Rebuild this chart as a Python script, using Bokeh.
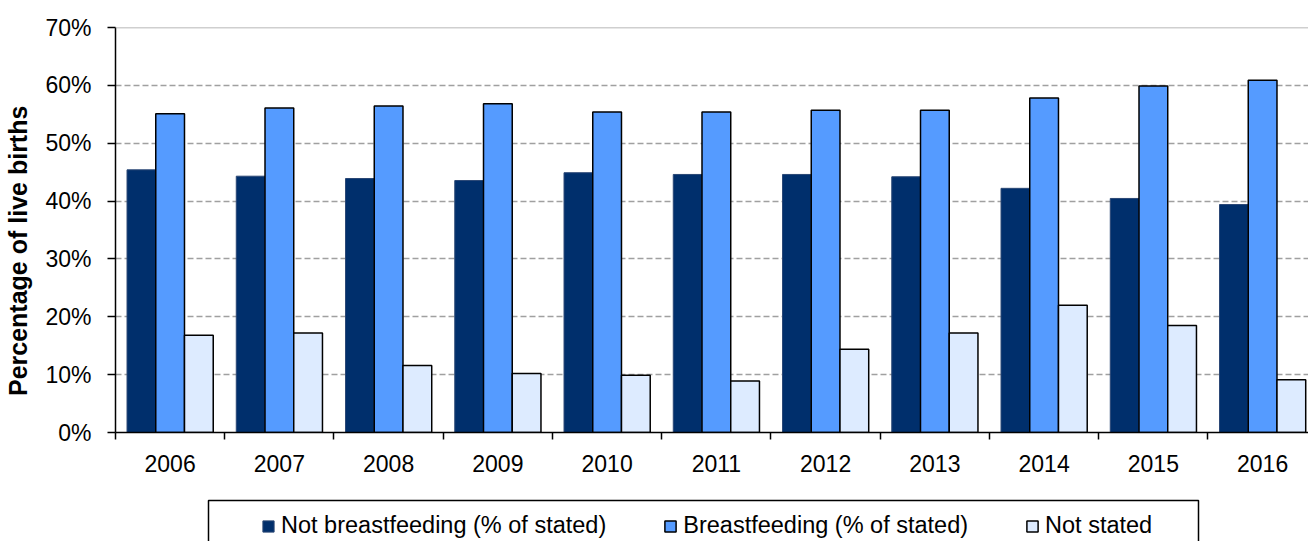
from bokeh.plotting import figure
from bokeh.models import (ColumnDataSource, FixedTicker, PrintfTickFormatter, Legend,
                          LegendItem, Span, Range1d, BoxAnnotation)
from bokeh.layouts import column
from bokeh.transform import dodge
from bokeh.embed import file_html
from bokeh.resources import INLINE

years = ["2006", "2007", "2008", "2009", "2010", "2011", "2012", "2013", "2014", "2015", "2016"]
not_breastfeeding = [45.4, 44.3, 43.9, 43.55, 44.9, 44.6, 44.6, 44.2, 42.2, 40.45, 39.4]
breastfeeding = [55.1, 56.1, 56.45, 56.8, 55.4, 55.4, 55.7, 55.7, 57.8, 59.9, 60.9]
not_stated = [16.8, 17.2, 11.6, 10.2, 9.9, 8.9, 14.4, 17.2, 22.0, 18.5, 9.1]
y_ticks = [0, 10, 20, 30, 40, 50, 60, 70]
series_names = ["Not breastfeeding (% of stated)", "Breastfeeding (% of stated)", "Not stated"]
series_colors = ["#002F6C", "#559BFF", "#DDEBFF"]
series_lines = ["#2a4775", "black", "black"]

centers = [i + 0.5 for i in range(len(years))]
bounds = [float(i) for i in range(len(years) + 1)]

src = ColumnDataSource(dict(x=centers, year=years, nbf=not_breastfeeding,
                            bf=breastfeeding, ns=not_stated))

FONT = "Liberation Sans"

p = figure(width=1308, height=490, output_backend="svg", toolbar_location=None,
           x_range=Range1d(0, 10.92), y_range=Range1d(0, 70),
           min_border_left=115, min_border_right=0, min_border_top=27, min_border_bottom=58)
p.outline_line_color = None
p.background_fill_color = "white"
p.border_fill_color = "white"

w = 0.263
tops = ["nbf", "bf", "ns"]
offsets = [-w, 0.0, w]
for t, off, fc, lc in zip(tops, offsets, series_colors, series_lines):
    p.vbar(x=dodge("x", off, range=p.x_range), top=t, width=w, source=src,
           fill_color=fc, line_color=lc, line_width=1.0 if lc != "black" else 1.5)

# axes
xa = p.xaxis[0]
xa.ticker = FixedTicker(ticks=centers, minor_ticks=bounds)
xa.major_label_overrides = {c: y for c, y in zip(centers, years)}
xa.major_tick_out = 0
xa.major_tick_in = 0
xa.minor_tick_out = 7
xa.minor_tick_in = 0
xa.minor_tick_line_color = "black"
xa.minor_tick_line_width = 1.5
xa.axis_line_color = "black"
xa.axis_line_width = 1.5
xa.major_label_text_font = FONT
xa.major_label_text_font_size = "23px"
xa.major_label_text_color = "black"
xa.major_label_standoff = 15

ya = p.yaxis[0]
ya.ticker = FixedTicker(ticks=y_ticks)
ya.formatter = PrintfTickFormatter(format="%d%%")
ya.major_tick_out = 8
ya.major_tick_in = 0
ya.minor_tick_out = 0
ya.minor_tick_in = 0
ya.major_tick_line_color = "black"
ya.major_tick_line_width = 1.5
ya.axis_line_color = "black"
ya.axis_line_width = 1.5
ya.major_label_text_font = FONT
ya.major_label_text_font_size = "23px"
ya.major_label_text_color = "black"
ya.major_label_standoff = 16
ya.axis_label = "Percentage of live births" + "\u00a0" * 6
ya.axis_label_text_font = FONT
ya.axis_label_text_font_size = "25px"
ya.axis_label_text_font_style = "bold"
ya.axis_label_text_color = "black"
ya.axis_label_standoff = 10

p.xgrid.grid_line_color = None
p.ygrid.grid_line_color = "#A0A0A0"
p.ygrid.grid_line_width = 1.5
p.ygrid.grid_line_dash = "6 3"

p.add_layout(Span(location=70, dimension="width", line_color="#A0A0A0", line_width=1.5))

# legend strip below the chart
pl = figure(width=1308, height=51, output_backend="svg", toolbar_location=None,
            x_range=Range1d(0, 1), y_range=Range1d(0, 1),
            x_axis_type=None, y_axis_type=None,
            min_border_left=115, min_border_right=0, min_border_top=0, min_border_bottom=0)
pl.outline_line_color = None
pl.background_fill_color = "white"
pl.border_fill_color = "white"

pl.add_layout(BoxAnnotation(left=93, right=1083, top=41, bottom=-20,
                            left_units="screen", right_units="screen",
                            top_units="screen", bottom_units="screen",
                            fill_color="white", fill_alpha=1.0,
                            line_color="black", line_alpha=1.0, line_width=1.5,
                            level="underlay"))

items = []
for t, name, fc, lc in zip(tops, series_names, series_colors, series_lines):
    r = pl.vbar(x="x", top=t, width=0.1, source=src, fill_color=fc, line_color=lc,
                line_width=1.0 if lc != "black" else 1.5, visible=False)
    items.append(LegendItem(label=name, renderers=[r]))

legend = Legend(items=items, orientation="horizontal", location=(146, 2),
                padding=0, margin=0, spacing=57, label_standoff=6,
                glyph_width=14, glyph_height=14,
                label_text_font=FONT, label_text_font_size="23.5px", label_text_color="black",
                border_line_color=None, background_fill_alpha=0)
pl.add_layout(legend, "center")

layout = column(p, pl, spacing=0)
open("out.html", "w").write(file_html(layout, INLINE))
